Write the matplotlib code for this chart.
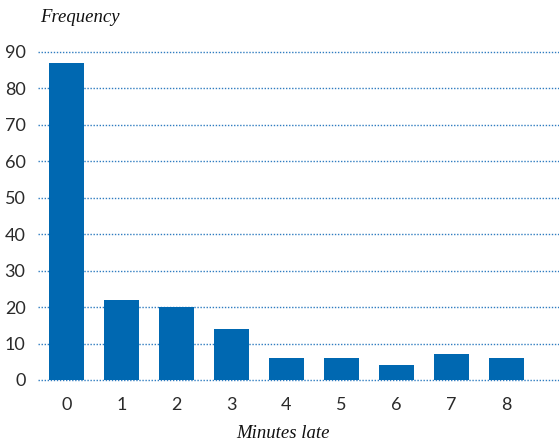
import matplotlib
matplotlib.use("Agg")
import matplotlib.pyplot as plt

categories = ["0", "1", "2", "3", "4", "5", "6", "7", "8"]
frequency = [87, 22, 20, 14, 6, 6, 4, 7, 6]
y_ticks = [0, 10, 20, 30, 40, 50, 60, 70, 80, 90]

fig = plt.figure(figsize=(5.59, 4.43), dpi=100)
ax = fig.add_axes([38/559, 1 - 380/443, 1 - 38/559, 328/443])

x = list(range(len(categories)))
ax.bar(x, frequency, width=0.64, color="#0068b1", zorder=3)

for t in y_ticks:
    ax.axhline(t, color="#2f7cc0", linestyle=(0, (1, 1.2)), linewidth=1.0, zorder=1, clip_on=False)

ax.set_xlim(-0.518, 8.955)
ax.set_ylim(0, 90)
ax.set_yticks(y_ticks)
ax.set_xticks(x)
ax.set_xticklabels(categories)
for s in ax.spines.values():
    s.set_visible(False)
ax.tick_params(axis="both", length=0, labelsize=13, labelcolor="#2a2a2a")
ax.tick_params(axis="y", pad=9)
ax.tick_params(axis="x", pad=12)
for lab in ax.get_xticklabels() + ax.get_yticklabels():
    lab.set_fontfamily(["Lato", "DejaVu Sans"])
    lab.set_fontweight("normal")

fig.text(40/559, 1 - 18/443, "Frequency", fontsize=13.5, fontstyle="italic",
         family=["Liberation Serif"], color="#111111", va="center", ha="left")
fig.text(283/559, 1 - 434/443, "Minutes late", fontsize=13.5, fontstyle="italic",
         family=["Liberation Serif"], color="#111111", va="center", ha="center")

fig.savefig("out.png", dpi=100)
